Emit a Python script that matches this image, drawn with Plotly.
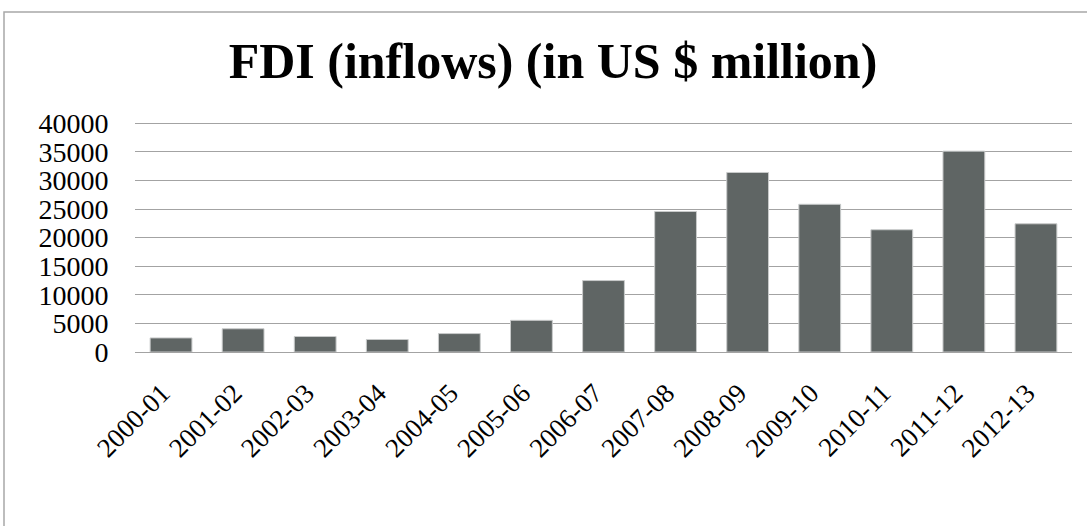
import plotly.graph_objects as go

years = ["2000-01", "2001-02", "2002-03", "2003-04", "2004-05", "2005-06", "2006-07",
         "2007-08", "2008-09", "2009-10", "2010-11", "2011-12", "2012-13"]
fdi_inflows = [2463, 4065, 2705, 2188, 3219, 5540, 12492, 24575, 31396, 25834, 21383, 35121, 22423]
y_ticks = [0, 5000, 10000, 15000, 20000, 25000, 30000, 35000, 40000]

W, H = 1087, 526
y_top = 40400
ml, mr, mt, mb = 135, 15, 121, 174
pw = W - ml - mr
ph = H - mt - mb

fig = go.Figure()
fig.add_trace(go.Bar(
    x=years, y=fdi_inflows,
    marker=dict(color="#5f6564", line=dict(color="#c9cbcb", width=1)),
    width=0.58,
    showlegend=False,
))

FONT = "Liberation Serif, Times New Roman, serif"

fig.update_layout(
    width=W, height=H,
    margin=dict(l=ml, r=mr, t=mt, b=mb),
    paper_bgcolor="white", plot_bgcolor="white",
    title=dict(text="<b>FDI (inflows) (in US $ million)</b>",
               font=dict(family=FONT, size=50, color="black"),
               x=553 / W, xanchor="center", xref="container",
               y=1 - 60 / H, yanchor="middle", yref="container"),
    font=dict(family=FONT, color="black"),
    shapes=[dict(type="rect", xref="paper", yref="paper",
                 x0=(4 - ml) / pw, x1=1.2, y0=-1.5, y1=(H - mb - 12) / ph,
                 line=dict(color="#a8a8a8", width=1.5), fillcolor="rgba(0,0,0,0)",
                 layer="below")],
)
fig.update_yaxes(range=[0, y_top], tickvals=y_ticks, ticktext=[str(v) for v in y_ticks],
                 showgrid=True, gridcolor="#a3a3a3", gridwidth=1.2,
                 zeroline=True, zerolinecolor="#a3a3a3", zerolinewidth=1.2,
                 ticks="outside", ticklen=20, tickcolor="rgba(0,0,0,0)",
                 tickfont=dict(family=FONT, size=28, color="black"),
                 showline=False, fixedrange=True)
fig.update_xaxes(type="category", tickangle=-45,
                 tickfont=dict(family=FONT, size=27, color="black"),
                 ticklabelstandoff=19, ticklabelshift=-9,
                 showline=False, showgrid=False, ticks="", fixedrange=True)

fig.write_html("out.html", config={"displayModeBar": False},
               post_script="document.body.style.margin='0';document.body.style.overflow='hidden';")
